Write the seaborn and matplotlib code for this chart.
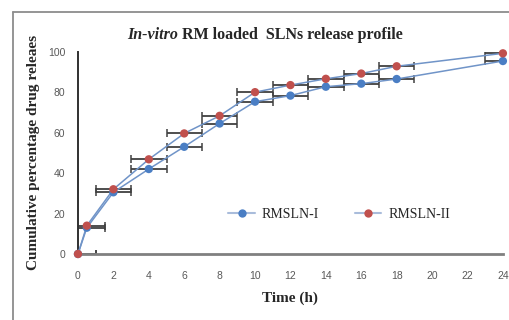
import pandas as pd
import matplotlib.pyplot as plt
import seaborn as sns
from matplotlib.lines import Line2D

# Datos
tiempo = [0, 0.5, 2, 4, 6, 8, 10, 12, 14, 16, 18, 24]
rmsln_1 = [0, 13, 30.5, 42, 53, 64.5, 75.3, 78.3, 82.7, 84.2, 86.5, 95.4]
rmsln_2 = [0, 14, 32, 46.8, 59.6, 68.3, 80, 83.5, 86.6, 89.2, 92.8, 99.2]
error_x = [1] * len(tiempo)
series = ['RMSLN-I', 'RMSLN-II']
colores = {'RMSLN-I': '#4A7EC4', 'RMSLN-II': '#C0504D'}

df = pd.DataFrame({
    'Time': tiempo * 2,
    'release': rmsln_1 + rmsln_2,
    'serie': [series[0]] * len(tiempo) + [series[1]] * len(tiempo),
})

sns.set_style('white')
plt.rcParams['font.family'] = ['Liberation Serif', 'DejaVu Serif']

fig = plt.figure(figsize=(5.09, 3.2), dpi=100)
ax = fig.add_axes([0.1532, 0.2063, 0.8348, 0.6321])

# lineas (mismo color azul claro para ambas series)
sns.lineplot(data=df, x='Time', y='release', units='serie', estimator=None,
             color='#7094C8', linewidth=1.1, ax=ax, zorder=3)
for ln in ax.lines:
    ln.set_clip_on(False)

# barras de error horizontales (recortadas por los ejes)
for y in (rmsln_1, rmsln_2):
    ax.errorbar(tiempo, y, xerr=error_x, fmt='none', ecolor='#404040',
                elinewidth=1.3, capsize=3, capthick=1.1, zorder=2)

sns.scatterplot(data=df, x='Time', y='release', hue='serie', palette=colores,
                s=36, edgecolor='none', legend=False, ax=ax, zorder=4)
ax.collections[-1].set_clip_on(False)

ax.set_xlim(0, 24)
ax.set_ylim(0, 100)
ax.set_xticks(range(0, 25, 2))
ax.set_yticks(range(0, 101, 20))
ax.tick_params(axis='x', length=0, labelsize=7.5, labelcolor='#595959', pad=12)
ax.tick_params(axis='y', length=0, labelsize=7.5, labelcolor='#595959', pad=9)
for lab in ax.get_xticklabels() + ax.get_yticklabels():
    lab.set_fontfamily('Liberation Sans')

for s in ['top', 'right']:
    ax.spines[s].set_visible(False)
ax.spines['left'].set_color('#303030')
ax.spines['left'].set_linewidth(1.4)
ax.spines['bottom'].set_color('#808080')
ax.spines['bottom'].set_linewidth(2)

ax.set_xlabel('Time (h)', fontsize=11, fontweight='bold', labelpad=8)
ax.set_ylabel('Cumulative percentage drug releaes', fontsize=11, fontweight='bold', labelpad=6)
fig.text(178 / 509, 0.89, 'In-vitro', fontsize=11.5, fontweight='bold', fontstyle='italic',
         ha='right', va='center')
fig.text(178 / 509, 0.89, ' RM loaded  SLNs release profile', fontsize=11.5, fontweight='bold',
         ha='left', va='center')

# leyenda
handles = [Line2D([0], [0], color='#A9BCDB', linewidth=1.5, marker='o', markersize=6,
                  markerfacecolor=colores[s], markeredgecolor='none') for s in series]
ax.legend(handles, series, loc='center', bbox_to_anchor=(0.615, 0.195), ncol=2, frameon=False,
          fontsize=10, handlelength=1.9, handletextpad=0.5, columnspacing=2.6, borderaxespad=0)

# marco de la figura (solo bordes izquierdo y superior visibles)
fig.add_artist(Line2D([13 / 509, 13 / 509], [0, 1 - 12 / 320], color='#8C8C8C', linewidth=1.3))
fig.add_artist(Line2D([13 / 509, 1], [1 - 12 / 320, 1 - 12 / 320], color='#8C8C8C', linewidth=1.3))

plt.savefig('out.png', dpi=100)
plt.close()
